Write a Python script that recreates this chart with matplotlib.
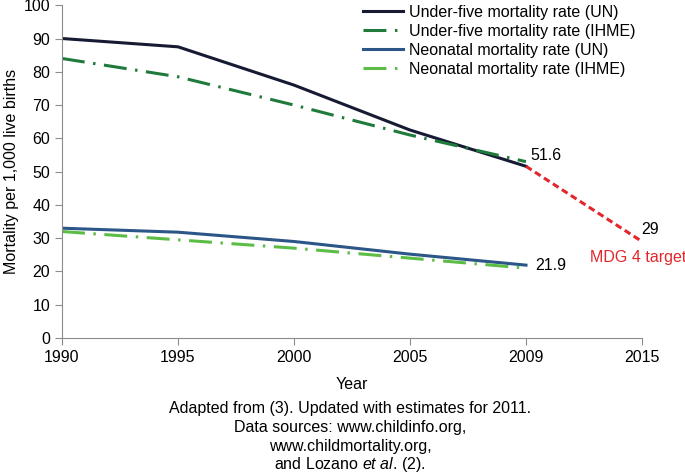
import matplotlib.pyplot as plt

plt.rcParams['font.family'] = ['Liberation Sans', 'DejaVu Sans']
plt.rcParams['mathtext.fontset'] = 'custom'
plt.rcParams['mathtext.rm'] = 'Liberation Sans'
plt.rcParams['mathtext.it'] = 'Liberation Sans:italic'
plt.rc('font', size=11.5)

years = ['1990', '1995', '2000', '2005', '2009', '2015']
u5_un = [90, 87.5, 76, 62.5, 51.6]
u5_ihme = [84, 78.5, 70, 61, 53]
neo_un = [33, 31.8, 29, 25.2, 21.9]
neo_ihme = [32, 29.5, 27, 24, 21]
target_years = ['2009', '2015']
target_vals = [51.6, 29]

gray = '#8c8c8c'
x = list(range(len(years)))
xs = x[:5]
xt = [years.index(y) for y in target_years]

fig = plt.figure(figsize=(6.85, 4.75), dpi=100)
ax = fig.add_axes([0.0905, 0.2884, 0.8467, 0.7006])

dashdot = (0, (7.5, 2.8, 0.8, 2.8))
ax.plot(xs, u5_un, color='#161b33', lw=2.2, label='Under-five mortality rate (UN)')
ax.plot(xs, u5_ihme, color='#1f7a3c', lw=2.2, ls=dashdot, label='Under-five mortality rate (IHME)')
ax.plot(xs, neo_un, color='#2c5688', lw=2.2, label='Neonatal mortality rate (UN)')
ax.plot(xs, neo_ihme, color='#5cbd46', lw=2.2, ls=dashdot, label='Neonatal mortality rate (IHME)')
ax.plot(xt, target_vals, color='#e2262b', lw=2.2, ls=(0, (2.2, 1.3)))

ax.text(xs[-1] + 0.04, u5_un[-1] + 3.3, '51.6', va='center', ha='left')
ax.text(xs[-1] + 0.08, neo_un[-1], '21.9', va='center', ha='left')
ax.text(xt[-1] - 0.01, target_vals[-1] + 3.6, '29', va='center', ha='left')
ax.text(xt[-1] - 0.45, target_vals[-1] - 4.8, 'MDG 4 target', color='#e2262b', va='center', ha='left')

ax.set_xlim(0, 5)
ax.set_ylim(0, 100)
ax.set_xticks(x)
ax.set_xticklabels(years)
ax.set_yticks(range(0, 101, 10))
for s in ['top', 'right']:
    ax.spines[s].set_visible(False)
for s in ['left', 'bottom']:
    ax.spines[s].set_color(gray)
ax.tick_params(colors=gray, labelcolor='black', length=5, direction='out')
ax.set_xlabel('Year', labelpad=9)
ax.set_ylabel('Mortality per 1,000 live births', labelpad=3)

ax.legend(loc='upper left', bbox_to_anchor=(0.5, 1.035), frameon=False,
          handlelength=2.5, handletextpad=0.4, labelspacing=0.25, borderpad=0.2)

caption = ['Adapted from (3). Updated with estimates for 2011.',
           'Data sources: www.childinfo.org,',
           'www.childmortality.org,',
           r'and Lozano $\it{et\ al}$. (2).']
for i, line in enumerate(caption):
    fig.text(0.511, 1 - (409 + i * 18.5) / 475, line, ha='center', va='center')

fig.savefig('out.png', dpi=100)
